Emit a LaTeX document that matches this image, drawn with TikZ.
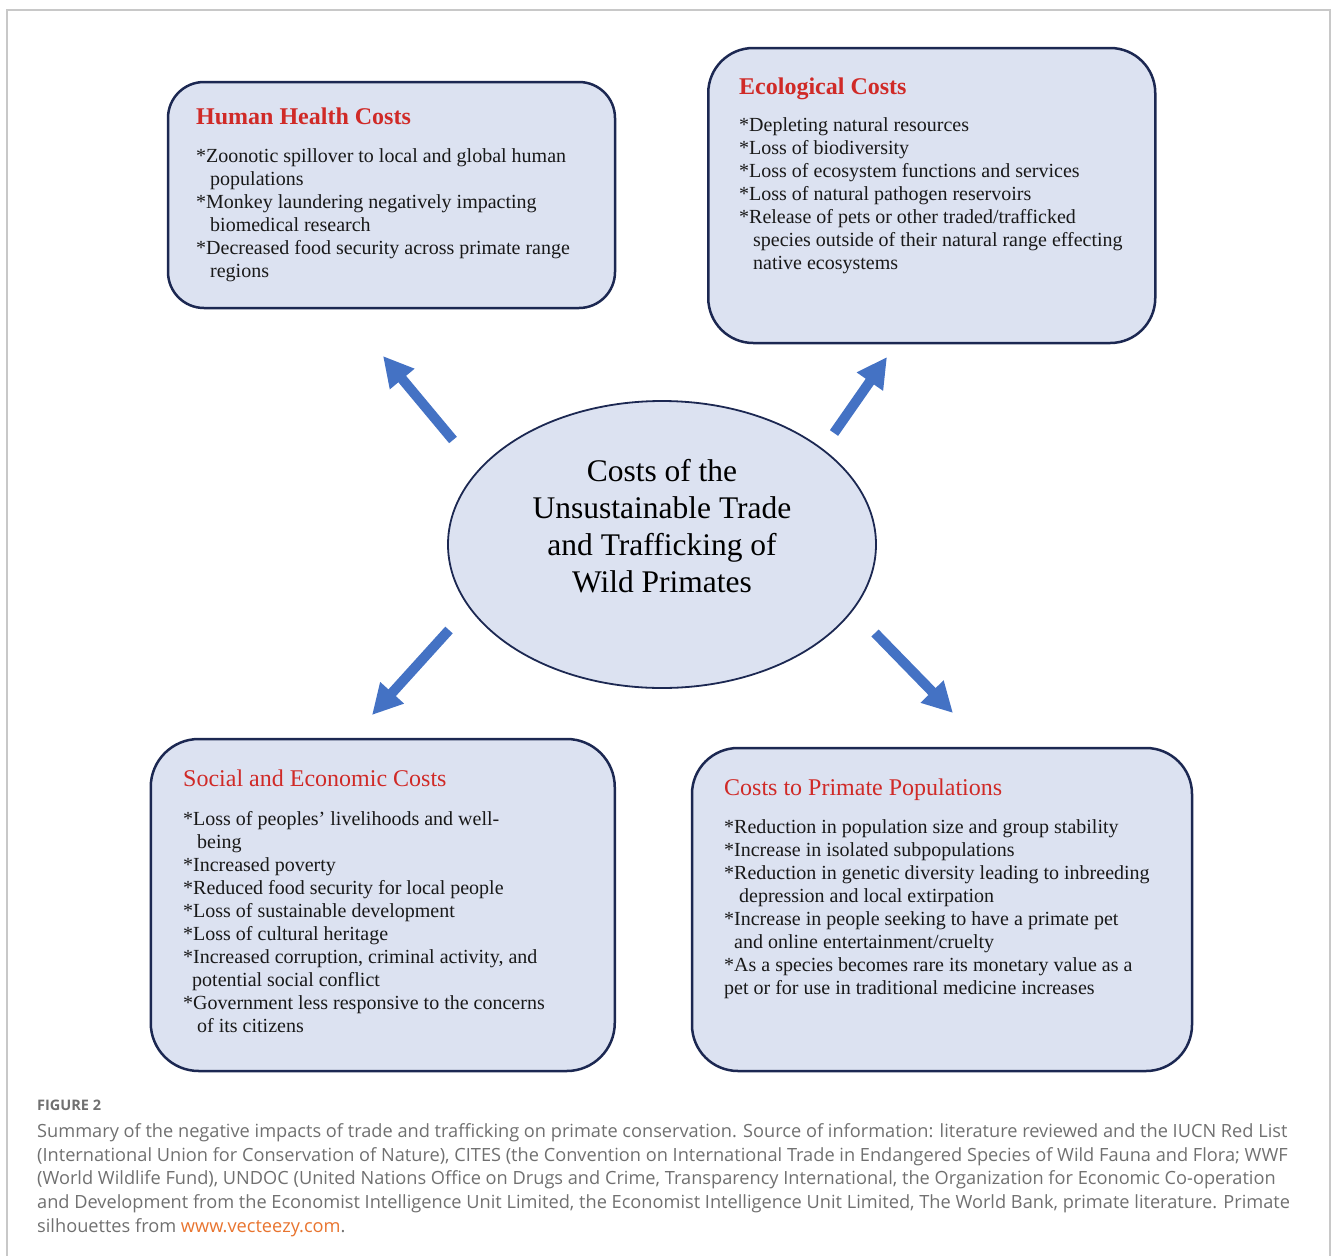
\documentclass[tikz,border=0pt]{standalone}
\usepackage{fontspec}
\setmainfont{Liberation Serif}
\newfontfamily\capfont{Open Sans}
\usetikzlibrary{arrows.meta,shapes.geometric}

\definecolor{boxfill}{HTML}{DCE2F1}
\definecolor{boxline}{HTML}{1C2852}
\definecolor{headred}{HTML}{D02A27}
\definecolor{arrowblue}{HTML}{4472C4}
\definecolor{framegray}{HTML}{C8C8C8}
\definecolor{capgray}{HTML}{707070}
\definecolor{linkorange}{HTML}{E8742F}

\begin{document}
\begin{tikzpicture}[x=1pt,y=-1pt,
		cost box/.style = {draw=boxline, line width=2.5pt, fill=boxfill, inner sep=0pt},
		core node/.style = {ellipse, draw=boxline, line width=1.8pt, fill=boxfill, inner sep=0pt,
			minimum width=428pt, minimum height=287pt},
		head text/.style = {anchor=base west, inner sep=0pt, text=headred, font=\fontsize{24}{28}\selectfont},
		body text/.style = {anchor=north west, inner sep=0pt, align=left, text=black!90,
			font=\fontsize{20}{23}\selectfont},
		big arrow/.style = {draw=arrowblue, line width=10pt, -{Triangle[width=30pt,length=30pt]}}]
	
	\useasboundingbox (0,0) rectangle (1331,1256);
	\draw[framegray, line width=1.2pt] (7,1256) -- (7,10) -- (1330,10) -- (1330,1256);
	
	% the four boxes
	\node[cost box, rounded corners=36pt, minimum width=447pt, minimum height=226pt] (hh) at (391.5,195) {};
	\node[cost box, rounded corners=45pt, minimum width=447pt, minimum height=295pt] (eco) at (931.75,195.5) {};
	\node[cost box, rounded corners=48pt, minimum width=464pt, minimum height=332pt] (soc) at (382.75,905) {};
	\node[cost box, rounded corners=46pt, minimum width=500pt, minimum height=323pt] (prim) at (942,909.5) {};
	
	% centre
	\node[core node] (core) at (662,544.5) {};
	\node[align=center, inner sep=0pt, font=\fontsize{31.5}{37}\selectfont] (coretxt) at (662,526)
		{Costs of the\\Unsustainable Trade\\and Trafficking of\\Wild Primates};
	
	% box texts
	\node[head text, font=\fontsize{24}{28}\selectfont\bfseries] (hhhead) at (196,124) {Human Health Costs};
	\node[body text] (hhbody) at (196,145.9) {\strut{}*Zoonotic spillover to local and global human\\
		\hspace*{14pt}populations\\
		{}*Monkey laundering negatively impacting\\
		\hspace*{14pt}biomedical research\\
		{}*Decreased food security across primate range\\
		\hspace*{14pt}regions};
	
	\node[head text, font=\fontsize{24}{28}\selectfont\bfseries] (ecohead) at (739,94) {Ecological Costs};
	\node[body text] (ecobody) at (739,114.9) {\strut{}*Depleting natural resources\\
		{}*Loss of biodiversity\\
		{}*Loss of ecosystem functions and services\\
		{}*Loss of natural pathogen reservoirs\\
		{}*Release of pets or other traded/trafficked\\
		\hspace*{14pt}species outside of their natural range effecting\\
		\hspace*{14pt}native ecosystems};
	
	\node[head text] (sochead) at (183,786.7) {Social and Economic Costs};
	\node[body text] (socbody) at (183,808.9) {\strut{}*Loss of peoples’ livelihoods and well-\\
		\hspace*{14pt}being\\
		{}*Increased poverty\\
		{}*Reduced food security for local people\\
		{}*Loss of sustainable development\\
		{}*Loss of cultural heritage\\
		{}*Increased corruption, criminal activity, and\\
		\hspace*{9pt}potential social conflict\\
		{}*Government less responsive to the concerns\\
		\hspace*{14pt}of its citizens};
	
	\node[head text] (primhead) at (724,795) {Costs to Primate Populations};
	\node[body text] (primbody) at (724,817.2) {\strut{}*Reduction in population size and group stability\\
		{}*Increase in isolated subpopulations\\
		{}*Reduction in genetic diversity leading to inbreeding\\
		\hspace*{15pt}depression and local extirpation\\
		{}*Increase in people seeking to have a primate pet\\
		\hspace*{10pt}and online entertainment/cruelty\\
		{}*As a species becomes rare its monetary value as a\\
		pet or for use in traditional medicine increases};
	
	% arrows
	\coordinate (nwtail) at (453,440);
	\coordinate (nwtip) at (383,356);
	\coordinate (netail) at (834,433);
	\coordinate (netip) at (887,357);
	\coordinate (swtail) at (449,630);
	\coordinate (swtip) at (372,715);
	\coordinate (setail) at (875,633);
	\coordinate (setip) at (953,713);
	\draw[big arrow] (nwtail) -- (nwtip);
	\draw[big arrow] (netail) -- (netip);
	\draw[big arrow] (swtail) -- (swtip);
	\draw[big arrow] (setail) -- (setip);
	
	% caption
	\node[anchor=base west, inner sep=0pt, text=capgray, font=\capfont\fontsize{14.5}{17}\selectfont\bfseries] (figlabel) at (37,1110.5) {FIGURE 2};
	\node[anchor=north west, inner sep=0pt, align=left, text=capgray, font=\capfont\fontsize{18.2}{23.7}\selectfont] (caption) at (37,1120.5)
		{\strut Summary of the negative impacts of trade and trafficking on primate conservation. Source of information: literature reviewed and the IUCN Red List\\
		(International Union for Conservation of Nature), CITES (the Convention on International Trade in Endangered Species of Wild Fauna and Flora; WWF\\
		(World Wildlife Fund), UNDOC (United Nations Office on Drugs and Crime, Transparency International, the Organization for Economic Co-operation\\
		and Development from the Economist Intelligence Unit Limited, the Economist Intelligence Unit Limited, The World Bank, primate literature. Primate\\
		silhouettes from \textcolor{linkorange}{www.vecteezy.com}.};
\end{tikzpicture}
\end{document}
